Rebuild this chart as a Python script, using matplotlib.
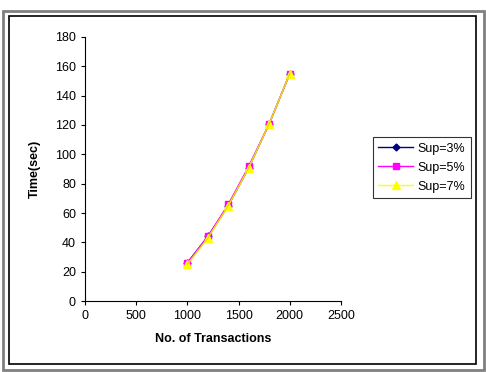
import matplotlib
matplotlib.use('Agg')
import matplotlib.pyplot as plt
from matplotlib.patches import Rectangle

plt.rcParams['font.family'] = ['Liberation Sans', 'DejaVu Sans']

transactions = [1000, 1200, 1400, 1600, 1800, 2000]
sup3 = [26, 44, 65, 91, 121, 155]
sup5 = [26, 44, 66, 92, 121, 155]
sup7 = [25, 43, 65, 91, 121, 155]
x_ticks = [0, 500, 1000, 1500, 2000, 2500]
y_ticks = [0, 20, 40, 60, 80, 100, 120, 140, 160, 180]

fig = plt.figure(figsize=(4.86, 3.72), dpi=100)
# outer frames
fig.patches.append(Rectangle((2.5 / 486, 2 / 372), 481 / 486, 359 / 372, transform=fig.transFigure,
                             fill=False, edgecolor='#808080', linewidth=2))
fig.patches.append(Rectangle((9 / 486, 8 / 372), 467 / 486, 348 / 372, transform=fig.transFigure,
                             fill=False, edgecolor='black', linewidth=1.2))

ax = fig.add_axes([85 / 486, 71 / 372, 256 / 486, 264 / 372])
ax.plot(transactions, sup3, color='#000080', marker='D', markersize=3.5, linewidth=1, label='Sup=3%')
ax.plot(transactions, sup5, color='#FF00FF', marker='s', markersize=4.5, linewidth=1, label='Sup=5%')
ax.plot(transactions, sup7, color='#FFFF00', marker='^', markersize=5.5, linewidth=1, label='Sup=7%')
ax.plot(transactions, sup7, color='#E0B030', linewidth=0.8, alpha=0.6)

ax.set_xlim(0, 2500)
ax.set_ylim(0, 180)
ax.set_xticks(x_ticks)
ax.set_yticks(y_ticks)
ax.spines['top'].set_visible(False)
ax.spines['right'].set_visible(False)
ax.tick_params(labelsize=9, length=3, width=0.8)
ax.set_xlabel('No. of Transactions', fontsize=9, fontweight='bold', labelpad=8)
ax.set_ylabel('Time(sec)', fontsize=9, fontweight='bold', labelpad=10)

leg = ax.legend(loc='center left', bbox_to_anchor=(1.1, 0.505), fontsize=9, frameon=True,
                fancybox=False, edgecolor='black', handlelength=2.8, borderpad=0.45,
                labelspacing=0.55, handletextpad=0.3)
leg.get_frame().set_linewidth(0.8)

fig.savefig('out.png', dpi=100)
